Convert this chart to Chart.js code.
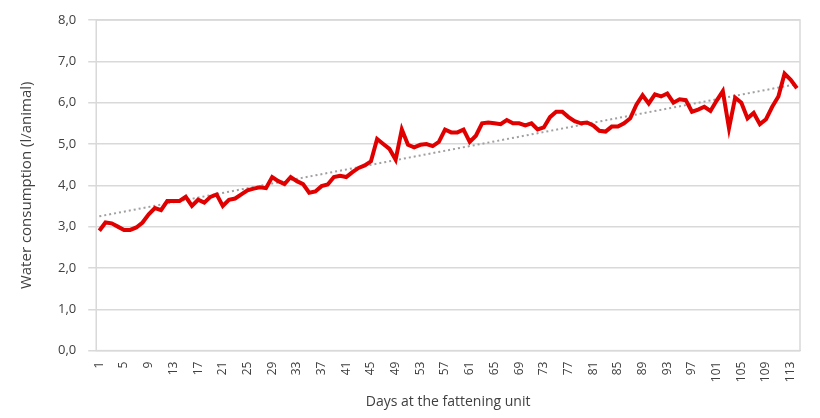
<!DOCTYPE html>
<html><head><meta charset="utf-8">
<script src="https://cdn.jsdelivr.net/npm/chart.js@4"></script>
<style>html,body{margin:0;padding:0;background:#fff}#w{width:820px;height:418px}</style>
</head><body><div id="w"><canvas id="c"></canvas></div>
<script>
const water = [2.9,3.1,3.08,3.0,2.92,2.92,2.98,3.1,3.3,3.45,3.4,3.62,3.62,3.62,3.72,3.5,3.65,3.58,3.72,3.78,
3.5,3.65,3.68,3.78,3.88,3.92,3.95,3.93,4.2,4.1,4.03,4.2,4.1,4.03,3.82,3.85,3.98,4.02,4.2,4.23,
4.2,4.32,4.42,4.48,4.58,5.12,5.0,4.88,4.62,5.35,4.98,4.92,4.98,5.0,4.95,5.05,5.35,5.28,5.28,5.35,
5.05,5.2,5.5,5.52,5.5,5.48,5.58,5.5,5.5,5.45,5.5,5.35,5.4,5.65,5.78,5.78,5.65,5.55,5.5,5.52,
5.45,5.32,5.3,5.42,5.42,5.5,5.62,5.95,6.18,5.98,6.2,6.15,6.22,6.0,6.08,6.06,5.78,5.83,5.9,5.8,
6.05,6.28,5.38,6.12,6.0,5.62,5.75,5.48,5.6,5.9,6.15,6.7,6.55,6.35];
const days = water.map((_, i) => String(i + 1));
const trend = water.map(() => null);
trend[0] = 3.25; trend[trend.length - 1] = 6.45;
const yTicks = ['0,0','1,0','2,0','3,0','4,0','5,0','6,0','7,0','8,0'];
const txt = '#404040';
const frame = { id: 'frame', afterDraw(c) { const a = c.chartArea, x = c.ctx; x.save(); x.strokeStyle = '#d9d9d9'; x.lineWidth = 1.5; x.strokeRect(a.left, a.top, a.right - a.left, a.bottom - a.top); x.restore(); } };
new Chart(document.getElementById('c'), {
  type: 'line',
  data: { labels: days, datasets: [
    { data: water, borderColor: '#e00000', borderWidth: 4, pointRadius: 0, tension: 0, order: 1 },
    { data: trend, borderColor: '#a0a0a0', borderWidth: 2, borderDash: [2, 3], pointRadius: 0, spanGaps: true, order: 2 }
  ]},
  options: {
    animation: false, responsive: true, maintainAspectRatio: false,
    layout: { padding: { top: 20, right: 20, left: 14, bottom: 4 } },
    plugins: { legend: { display: false }, tooltip: { enabled: false } },
    scales: {
      x: { offset: true, grid: { display: false }, border: { color: '#d0d0d0' },
        title: { display: true, text: 'Days at the fattening unit', color: txt, font: { family: 'Open Sans', size: 14 }, padding: { top: 8 } },
        ticks: { color: txt, font: { family: 'Open Sans', size: 12 }, autoSkip: false, maxRotation: 90, minRotation: 90,
          callback: (v, i) => (i % 4 === 0 ? days[i] : '') } },
      y: { min: 0, max: 8, grid: { color: '#d9d9d9', lineWidth: 1.5 }, border: { display: false },
        title: { display: true, text: 'Water consumption (l/animal)', color: txt, font: { family: 'Open Sans', size: 15 }, padding: { bottom: 10 } },
        ticks: { stepSize: 1, color: txt, font: { family: 'Open Sans', size: 13 }, padding: 12, callback: (v) => yTicks[v] } }
    }
  },
  plugins: [frame]
});
</script></body></html>
